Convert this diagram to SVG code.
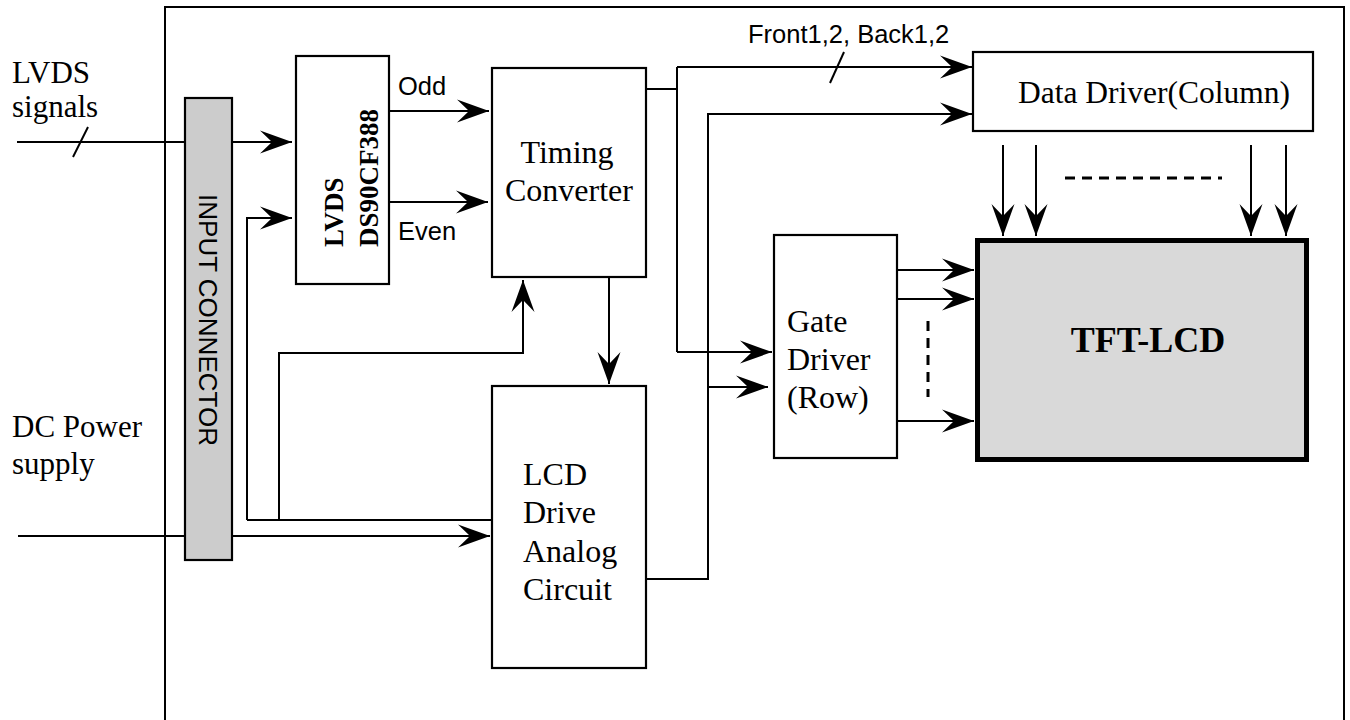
<svg xmlns="http://www.w3.org/2000/svg" width="1350" height="720" viewBox="0 0 1350 720">
<style>
.ln{fill:none;stroke:#000;stroke-width:2}
.arr{marker-end:url(#ah)}
.dash{fill:none;stroke:#000;stroke-width:3;stroke-dasharray:10 7}
.box{fill:#fff;stroke:#000;stroke-width:2.2}
.serif{font-family:"Liberation Serif","Times New Roman",serif;fill:#000}
.sans{font-family:"Liberation Sans",Arial,sans-serif;fill:#000}
</style>
<defs>
<marker id="ah" markerWidth="34" markerHeight="24" refX="33" refY="12" orient="auto" markerUnits="userSpaceOnUse" viewBox="0 0 34 24">
<path d="M33,12 L1,0.5 L13,12 L1,23.5 Z" fill="#000"/>
</marker>
</defs>
<rect width="1350" height="720" fill="#fff"/>
<g id="frame"><rect x="165" y="7" width="1179" height="800" class="ln"/></g>
<text class="serif" font-size="31" x="12" y="83">LVDS</text>
<text class="serif" font-size="31" x="12" y="117">signals</text>
<text class="serif" font-size="31" x="12" y="437">DC Power</text>
<text class="serif" font-size="31" x="12" y="474">supply</text>
<g id="connectors">
<path class="ln arr" d="M17,142 H292"/>
<path class="ln" d="M73,157 L88,127"/>
<path class="ln arr" d="M247,520 V218 H292"/>
<path class="ln" d="M247,520 H493"/>
<path class="ln arr" d="M279,520 V353 H523 V280"/>
<path class="ln arr" d="M18,536 H490"/>
<path class="ln arr" d="M389,111 H489"/>
<path class="ln arr" d="M389,202 H488"/>
<path class="ln arr" d="M609,277 V384"/>
<path class="ln" d="M646,89 H677"/>
<path class="ln" d="M677,67 V352"/>
<path class="ln arr" d="M677,67 H972"/>
<path class="ln arr" d="M677,352 H772"/>
<path class="ln" d="M830,83 L844,52"/>
<path class="ln arr" d="M646,579 H708 V114 H972"/>
<path class="ln arr" d="M708,387 H768"/>
<path class="ln arr" d="M897,270 H974"/>
<path class="ln arr" d="M897,299 H974"/>
<path class="ln arr" d="M897,421 H974"/>
<path class="dash" d="M928,321 V397"/>
<path class="ln arr" d="M1003,145 V236"/>
<path class="ln arr" d="M1036,145 V236"/>
<path class="ln arr" d="M1251,145 V236"/>
<path class="ln arr" d="M1286,145 V236"/>
<path class="dash" d="M1065,178 H1222"/>
</g>
<text class="sans" font-size="25.5" x="398" y="95">Odd</text>
<text class="sans" font-size="25.5" x="398" y="240">Even</text>
<text class="sans" font-size="25.5" x="748" y="43">Front1,2, Back1,2</text>
<g id="input-connector">
<rect x="185" y="98" width="47" height="462" fill="#cccccc" stroke="#000" stroke-width="2.2"/>
<text class="sans" font-size="26" text-anchor="middle" transform="translate(199,320) rotate(90)">INPUT CONNECTOR</text>
</g>
<g id="lvds">
<rect class="box" x="296" y="56" width="93" height="228"/>
<text class="serif" font-size="27" font-weight="bold" transform="translate(343,247) rotate(-90)">LVDS</text>
<text class="serif" font-size="27" font-weight="bold" transform="translate(378,247) rotate(-90)">DS90CF388</text>
</g>
<g id="timing">
<rect class="box" x="492" y="68" width="154" height="209"/>
<text class="serif" font-size="32" text-anchor="middle" x="567" y="163">Timing</text>
<text class="serif" font-size="32" text-anchor="middle" x="569" y="201">Converter</text>
</g>
<g id="lcd-drive">
<rect class="box" x="492" y="386" width="154" height="282"/>
<text class="serif" font-size="32" x="523" y="485">LCD</text>
<text class="serif" font-size="32" x="523" y="523">Drive</text>
<text class="serif" font-size="32" x="523" y="562">Analog</text>
<text class="serif" font-size="32" x="523" y="600">Circuit</text>
</g>
<g id="gate-driver">
<rect class="box" x="774" y="235" width="123" height="223"/>
<text class="serif" font-size="32" x="787" y="332">Gate</text>
<text class="serif" font-size="32" x="787" y="370">Driver</text>
<text class="serif" font-size="32" x="787" y="408">(Row)</text>
</g>
<g id="data-driver">
<rect class="box" x="973" y="52" width="340" height="79"/>
<text class="serif" font-size="31.5" x="1018" y="103">Data Driver(Column)</text>
</g>
<g id="tft-lcd">
<rect x="977.5" y="240.5" width="329" height="219" fill="#d9d9d9" stroke="#000" stroke-width="5"/>
<text class="serif" font-size="36" font-weight="bold" text-anchor="middle" x="1148" y="352">TFT-LCD</text>
</g>
</svg>
